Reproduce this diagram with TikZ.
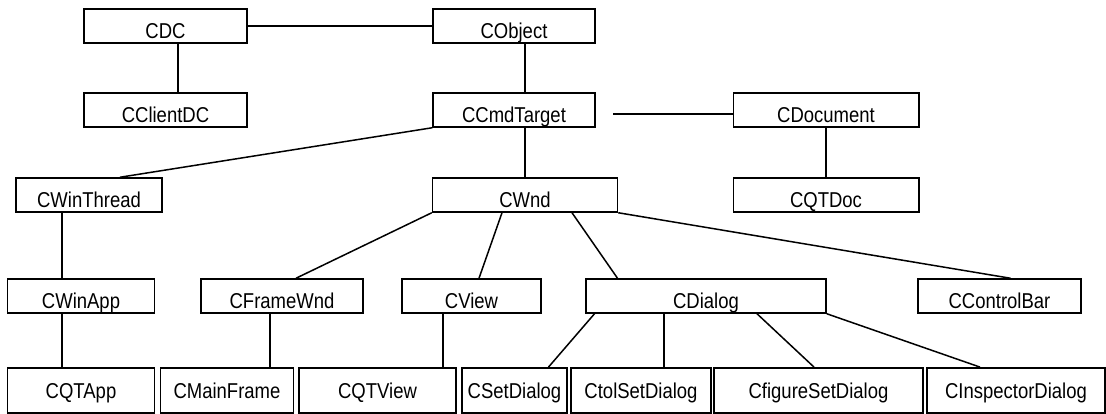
\documentclass[tikz,border=0pt]{standalone}
\usepackage{fontspec}
\setmainfont[FakeStretch=0.86]{Liberation Sans}
\begin{document}
\begin{tikzpicture}[x=1pt,y=-1pt,
  box/.style={draw,line width=1.5pt,rectangle,inner sep=0pt,minimum height=34pt,
    text height=25pt,text depth=0pt,font=\fontsize{21.5}{21.5}\selectfont},
  lowbox/.style={box,line width=1.4pt,minimum height=45pt,text height=15.5pt},
  link/.style={line width=1.5pt}]
\useasboundingbox (0,0) rectangle (1106,414);
% row 1
\node[box,minimum width=163pt] (CDC) at (165.5,26) {CDC};
\node[box,minimum width=162pt] (CObject) at (514,26) {CObject};
% row 2
\node[box,minimum width=163pt] (CClientDC) at (165.5,110) {CClientDC};
\node[box,minimum width=162pt] (CCmdTarget) at (514,110) {CCmdTarget};
\node[box,minimum width=185.5pt] (CDocument) at (826,110) {CDocument};
% row 3
\node[box,minimum width=146pt] (CWinThread) at (89,195) {CWinThread};
\node[box,minimum width=185pt] (CWnd) at (525,195) {CWnd};
\node[box,minimum width=185.5pt] (CQTDoc) at (826,195) {CQTDoc};
% row 4
\node[box,minimum width=146.6pt] (CWinApp) at (81,296) {CWinApp};
\node[box,minimum width=162pt] (CFrameWnd) at (282,296) {CFrameWnd};
\node[box,minimum width=139pt] (CView) at (471.5,296) {CView};
\node[box,minimum width=240pt] (CDialog) at (706,296) {CDialog};
\node[box,minimum width=163pt] (CControlBar) at (999.5,296) {CControlBar};
% row 5
\node[lowbox,minimum width=146.6pt] (CQTApp) at (81,390.3) {CQTApp};
\node[lowbox,minimum width=133.5pt] (CMainFrame) at (227,390.3) {CMainFrame};
\node[lowbox,minimum width=157pt] (CQTView) at (377.5,390.3) {CQTView};
\node[lowbox,minimum width=105pt] (CSetDialog) at (514.5,390.3) {CSetDialog};
\node[lowbox,minimum width=140pt] (CtolSetDialog) at (641,390.3) {CtolSetDialog};
\node[lowbox,minimum width=209pt] (CfigureSetDialog) at (818.5,390.3) {CfigureSetDialog};
\node[lowbox,minimum width=178pt] (CInspectorDialog) at (1016,390.3) {CInspectorDialog};
\coordinate (cdfree) at (613,114);
% connectors
\draw[link] (CDC.east) -- (CObject.west);
\draw[link] ([xshift=12.5pt]CDC.south) -- ([xshift=12.5pt]CClientDC.north);
\draw[link] ([xshift=11pt]CObject.south) -- ([xshift=11pt]CCmdTarget.north);
\draw[link] (cdfree) -- (cdfree -| CDocument.west);
\draw[link] (CDocument.south) -- (CQTDoc.north);
\draw[link] (CCmdTarget.south west) -- ([xshift=31pt]CWinThread.north);
\draw[link] ([xshift=11pt]CCmdTarget.south) -- (CWnd.north);
\draw[link] ([xshift=-27pt]CWinThread.south) -- ([xshift=-19pt]CWinApp.north);
\draw[link] ([xshift=-19pt]CWinApp.south) -- ([xshift=-19pt]CQTApp.north);
\draw[link] (CWnd.south west) -- ([xshift=14pt]CFrameWnd.north);
\draw[link] ([xshift=-23pt]CWnd.south) -- ([xshift=7.5pt]CView.north);
\draw[link] ([xshift=47pt]CWnd.south) -- ([xshift=-88.5pt]CDialog.north);
\draw[link] (CWnd.south east) -- ([xshift=11pt]CControlBar.north);
\draw[link] ([xshift=-12pt]CFrameWnd.south) -- ([xshift=43pt]CMainFrame.north);
\draw[link] ([xshift=-28.5pt]CView.south) -- ([xshift=65.5pt]CQTView.north);
\draw[link] ([xshift=-111.5pt]CDialog.south) -- ([xshift=34pt]CSetDialog.north);
\draw[link] ([xshift=-42pt]CDialog.south) -- ([xshift=23pt]CtolSetDialog.north);
\draw[link] ([xshift=51pt]CDialog.south) -- ([xshift=-4.5pt]CfigureSetDialog.north);
\draw[link] (CDialog.south east) -- ([xshift=-36pt]CInspectorDialog.north);
\end{tikzpicture}
\end{document}
